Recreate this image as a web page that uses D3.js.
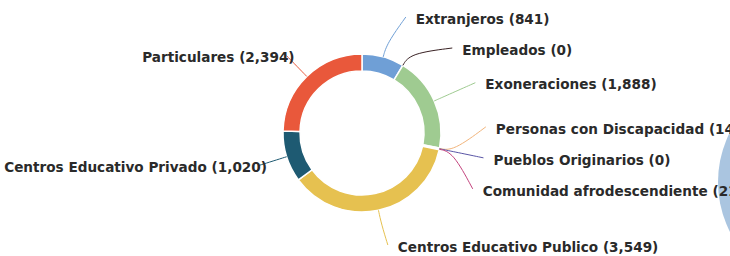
<!DOCTYPE html>
<html>
<head>
<meta charset="utf-8">
<style>
    body { margin: 0; background: #fff; overflow: hidden; }
    .label {
        font-family: 'DejaVu Sans', sans-serif;
        font-size: 13.6px;
        font-weight: bold;
        fill: #2a2a2a;
    }
    .slice { stroke: #fff; stroke-width: 1.5px; }
    .line { fill: none; stroke-width: 1px; }
</style>
</head>
<body>
<svg id="chart" width="730" height="256"></svg>
<script src="https://d3js.org/d3.v7.min.js"></script>
<script>
    var categories = ['Extranjeros', 'Empleados', 'Exoneraciones', 'Personas con Discapacidad',
                      'Pueblos Originarios', 'Comunidad afrodescendiente',
                      'Centros Educativo Publico', 'Centros Educativo Privado', 'Particulares'];
    var values = [841, 0, 1888, 14, 0, 21, 3549, 1020, 2394];
    var colors = ['#6f9fd6', '#3a2224', '#9fcb91', '#f2b57c', '#5a56a6', '#c4447e',
                  '#e6c150', '#1e5a72', '#e9583b'];

    var width = 730;
    var height = 256;
    var cx = 362;
    var cy = 133;
    var outerR = 79;
    var innerR = 62;
    var labelR = {right: 124, left: 108};
    var gap = 31;
    var topMin = 17;
    var bottomMax = 245;

    var svg = d3.select('#chart');

    // bit of the next chart peeking in at the right edge
    svg.append('circle')
        .attr('cx', width + 98).attr('cy', 182).attr('r', 110)
        .attr('fill', '#aac5e0');

    var data = categories.map(function(c, i) {
        return {name: c, value: values[i], color: colors[i]};
    });

    var pie = d3.pie().sort(null).value(function(d) { return d.value; });
    var arc = d3.arc().innerRadius(innerR).outerRadius(outerR);
    var arcs = pie(data);

    var g = svg.append('g').attr('transform', 'translate(' + cx + ',' + cy + ')');

    g.selectAll('path.slice')
        .data(arcs.filter(function(d) { return d.value > 0; }))
        .enter().append('path')
        .attr('class', 'slice')
        .attr('fill', function(d) { return d.data.color; })
        .attr('d', arc);

    // -----------------------------------
    // label positions: on a circle around the donut, pushed apart vertically
    var labels = arcs.map(function(d) {
        var a = (d.startAngle + d.endAngle) / 2;
        var right = Math.sin(a) >= 0;
        var r = right ? labelR.right : labelR.left;
        return {
            d: d, a: a, r: r,
            right: right,
            y: -r * Math.cos(a)
        };
    });

    [true, false].forEach(function(side) {
        var list = labels.filter(function(l) { return l.right === side; })
                         .sort(function(p, q) { return p.y - q.y; });
        for (var it = 0; it < 60; it++) {
            for (var i = 1; i < list.length; i++) {
                var p = list[i - 1], q = list[i];
                var diff = q.y - p.y;
                if (diff < gap) {
                    var s = (gap - diff) / 2;
                    p.y -= s;
                    q.y += s;
                }
            }
            list.forEach(function(l) {
                if (l.y < topMin - cy) l.y = topMin - cy;
            });
        }
    });

    labels.forEach(function(l) {
        var dx;
        if (l.y > bottomMax - cy) {
            // keep the natural x, just lift it into view
            l.y = bottomMax - cy;
            dx = Math.abs(l.r * Math.sin(l.a));
        } else {
            dx = Math.sqrt(Math.max(0, l.r * l.r - l.y * l.y));
        }
        l.x = l.right ? dx : -dx;
    });

    var lineGen = d3.line().curve(d3.curveBasis);

    g.selectAll('path.line')
        .data(labels)
        .enter().append('path')
        .attr('class', 'line')
        .attr('stroke', function(l) { return l.d.data.color; })
        .attr('d', function(l) {
            var p0 = [outerR * Math.sin(l.a), -outerR * Math.cos(l.a)];
            var r1 = outerR + 14;
            var p1 = [r1 * Math.sin(l.a), -r1 * Math.cos(l.a)];
            return lineGen([p0, p1, [l.x, l.y]]);
        });

    var fmt = d3.format(',');
    g.selectAll('text.label')
        .data(labels)
        .enter().append('text')
        .attr('class', 'label')
        .attr('x', function(l) { return l.right ? l.x + 10 : l.x + 8; })
        .attr('y', function(l) { return l.y + 2; })
        .attr('dy', '0.35em')
        .style('text-anchor', function(l) { return l.right ? 'start' : 'end'; })
        .text(function(l) { return l.d.data.name + ' (' + fmt(l.d.data.value) + ')'; });
</script>
</body>
</html>
